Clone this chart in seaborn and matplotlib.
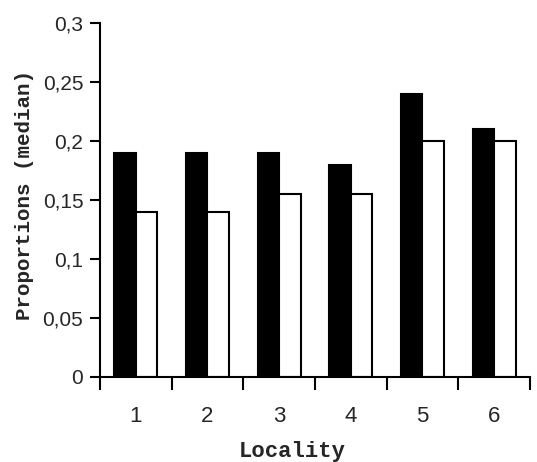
import matplotlib
matplotlib.use("Agg")
import matplotlib.pyplot as plt
import seaborn as sns
import pandas as pd
import numpy as np
from matplotlib.ticker import FixedLocator

localities = ["1", "2", "3", "4", "5", "6"]
series_a = [0.19, 0.19, 0.19, 0.18, 0.24, 0.21]
series_b = [0.14, 0.14, 0.155, 0.155, 0.20, 0.20]
y_ticks = [0, 0.05, 0.1, 0.15, 0.2, 0.25, 0.3]
y_tick_labels = ["0", "0,05", "0,1", "0,15", "0,2", "0,25", "0,3"]

df = pd.DataFrame({
    "Locality": localities * 2,
    "value": series_a + series_b,
    "series": ["A"] * 6 + ["B"] * 6,
})

sns.set_style("ticks")
plt.rcParams['font.family'] = ['Liberation Sans', 'DejaVu Sans']

fig = plt.figure(figsize=(5.37, 4.62), dpi=100)
ax = fig.add_axes([100/537, (462-377)/462, 430/537, (377-23)/462])

sns.barplot(data=df, x="Locality", y="value", hue="series",
            palette=["black", "white"], edgecolor="black", linewidth=1.5,
            width=0.6, gap=0, legend=False, ax=ax)

ax.set_xlim(-0.5, 5.5)
ax.set_ylim(0, 0.3)
ax.set_yticks(y_ticks)
ax.set_yticklabels(y_tick_labels, fontsize=15)
ax.set_xticks(range(len(localities)))
ax.set_xticklabels(localities, fontsize=16)
ax.xaxis.set_minor_locator(FixedLocator(np.arange(-0.5, 6.0, 1.0)))
ax.tick_params(axis="x", which="major", length=0, pad=21)
ax.tick_params(axis="x", which="minor", length=9, width=1.5, color="black")
ax.tick_params(axis="y", length=7, width=1.5, color="black", pad=5)
for s in ["top", "right"]:
    ax.spines[s].set_visible(False)
for s in ["left", "bottom"]:
    ax.spines[s].set_linewidth(1.5)
    ax.spines[s].set_color("black")

ax.set_xlabel("Locality", fontfamily="Liberation Mono", fontweight="bold", fontsize=16, labelpad=10)
ax.set_ylabel("Proportions (median)", fontfamily="Liberation Mono", fontweight="bold", fontsize=15, labelpad=6)
ax.xaxis.label.set_x(0.447)
ax.yaxis.label.set_y(0.515)

fig.savefig("out.png", dpi=100)
